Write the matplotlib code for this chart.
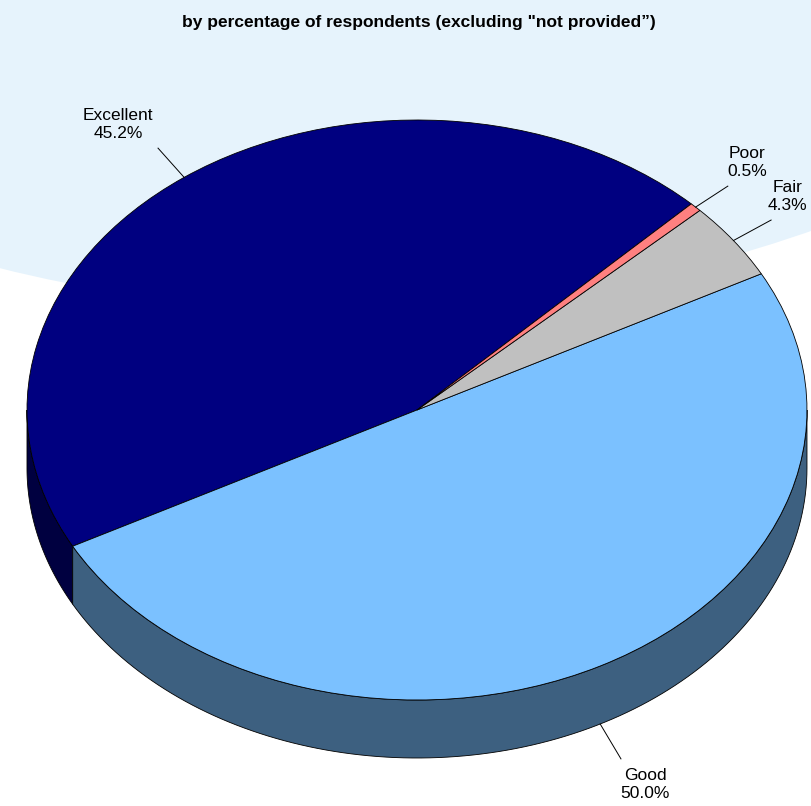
import numpy as np
import matplotlib.pyplot as plt
from matplotlib.patches import Ellipse

# data
categories = ["Excellent", "Good", "Fair", "Poor"]
shares = [45.2, 50.0, 4.3, 0.5]
top_colors = ["#000080", "#7bc1ff", "#c0c0c0", "#ff8080"]
side_colors = ["#000040", "#3d6080", "#808080", "#804040"]
subtitle = 'by percentage of respondents (excluding "not provided\u201d)'

START = 45.3   # degrees, where "Excellent" begins
DEPTH = 0.2    # thickness of the pie, in radius units

plt.rcParams["font.family"] = ["Liberation Sans", "DejaVu Sans"]

fig = plt.figure(figsize=(8.11, 8.06), dpi=100)
fig.patch.set_facecolor("white")

# pale blue disc peeking out behind the top of the pie
fig.patches.append(Ellipse((0.423, 2.377), 3.502, 3.524, transform=fig.transFigure,
                           facecolor="#e6f3fc", edgecolor="none", zorder=-1))

ax = fig.add_axes([0, 0, 1, 1])
ax.set_facecolor("none")
ax.set_zorder(1)

total = sum(shares)
edges = START + np.concatenate([[0], np.cumsum(shares)]) / total * 360

# side walls (only the front half of the cylinder is visible)
for i in range(len(shares)):
    a0, a1 = edges[i], edges[i + 1]
    for lo, hi in [(180, 360), (540, 720)]:
        s, e = max(a0, lo), min(a1, hi)
        if e <= s:
            continue
        t = np.radians(np.linspace(s, e, 120))
        x, y = np.cos(t), np.sin(t)
        ax.fill(np.concatenate([x, x[::-1]]), np.concatenate([y, y[::-1] - DEPTH]),
                facecolor=side_colors[i], edgecolor="black", linewidth=0.6)

# top face
ax.pie(shares, colors=top_colors, startangle=START, counterclock=True,
       wedgeprops=dict(edgecolor="black", linewidth=0.6))

# squash the circle into an ellipse
ax.set_aspect("auto")
ax.set_xlim(-1.0692, 1.0103)
ax.set_ylim(-1.3655, 1.4138)
ax.axis("off")

# labels with leader lines: (text centre, line end)
label_layout = {
    "Excellent": ((-0.767, 0.984), (-0.664, 0.903)),
    "Poor": ((0.846, 0.853), (0.797, 0.772)),
    "Fair": ((0.950, 0.736), (0.908, 0.655)),
    "Good": ((0.585, -1.291), (0.523, -1.203)),
}
for i, cat in enumerate(categories):
    mid = np.radians((edges[i] + edges[i + 1]) / 2)
    px, py = np.cos(mid), np.sin(mid)
    if py < 0:
        py -= DEPTH
    (tx, ty), (lx, ly) = label_layout[cat]
    ax.plot([px, lx], [py, ly], color="black", linewidth=0.7)
    ax.text(tx, ty, f"{cat}\n{shares[i]:.1f}%", ha="center", va="center",
            fontsize=12.5, linespacing=1.3)

fig.text(0.517, 1 - 22 / 806, subtitle, ha="center", va="center",
         fontsize=12.5, fontweight="bold")

fig.savefig("out.png", dpi=100)
